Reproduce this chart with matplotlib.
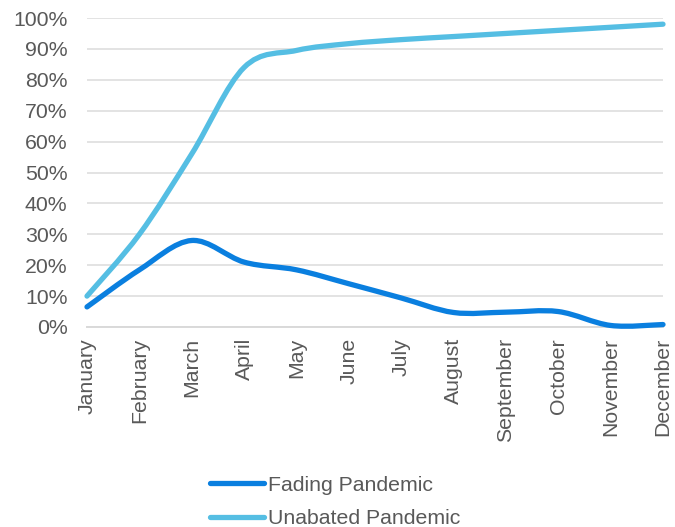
import numpy as np
import matplotlib
matplotlib.use("Agg")
import matplotlib.pyplot as plt
from matplotlib.path import Path
from matplotlib.patches import PathPatch
from matplotlib.lines import Line2D
from matplotlib.ticker import PercentFormatter

# data
months = ["January", "February", "March", "April", "May", "June", "July",
          "August", "September", "October", "November", "December"]
fading = [0.065, 0.185, 0.28, 0.21, 0.185, 0.14, 0.094, 0.047, 0.048, 0.05, 0.005, 0.008]
unabated = [0.10, 0.30, 0.56, 0.84, 0.895, 0.917, 0.93, 0.94, 0.95, 0.96, 0.97, 0.98]

series_names = ["Fading Pandemic", "Unabated Pandemic"]
colours = ["#0A7FDF", "#55BEE3"]

plt.rcParams['font.family'] = ['Liberation Sans', 'DejaVu Sans']


def smooth_path(xs, ys):
    # excel-like smoothed line: cubic bezier segments through the points
    pts = np.column_stack([xs, ys]).astype(float)
    verts = [pts[0]]
    codes = [Path.MOVETO]
    n = len(pts)
    for i in range(n - 1):
        p0 = pts[i - 1] if i > 0 else pts[i]
        p1 = pts[i]
        p2 = pts[i + 1]
        p3 = pts[i + 2] if i + 2 < n else pts[i + 1]
        c1 = p1 + (p2 - p0) / 6
        c2 = p2 - (p3 - p1) / 6
        verts += [c1, c2, p2]
        codes += [Path.CURVE4] * 3
    return Path(verts, codes)


fig = plt.figure(figsize=(6.75, 5.27), dpi=100)
ax = fig.add_axes([87 / 675, 200 / 527, 576 / 675, 309 / 527])

x = np.arange(len(months))
for vals, c in zip([fading, unabated], colours):
    patch = PathPatch(smooth_path(x, vals), facecolor='none', edgecolor=c,
                      lw=3.8, capstyle='round', joinstyle='round', clip_on=False, zorder=3)
    ax.add_patch(patch)

ax.set_xlim(0, len(months) - 1)
ax.set_ylim(0, 1)
ax.set_yticks(np.arange(0, 1.01, 0.1))
ax.yaxis.set_major_formatter(PercentFormatter(1.0, decimals=0))
ax.set_xticks(x)
ax.set_xticklabels(months, rotation=90)
ax.tick_params(axis='both', labelsize=15.3, labelcolor='#595959', length=0)
ax.tick_params(axis='y', pad=14)
ax.tick_params(axis='x', pad=8)
ax.grid(axis='y', color='#E3E3E3', lw=1.4)
ax.set_axisbelow(True)
for s in ['top', 'right', 'left']:
    ax.spines[s].set_visible(False)
ax.spines['bottom'].set_color('#D9D9D9')
ax.spines['bottom'].set_linewidth(1.4)

handles = [Line2D([], [], color=c, lw=3.8, solid_capstyle='round') for c in colours]
fig.legend(handles, series_names, loc='lower left', bbox_to_anchor=(208 / 675, -0.006),
           frameon=False, fontsize=15.3, labelcolor='#595959', handlelength=2.55,
           handletextpad=0.15, labelspacing=0.68, borderpad=0.1, borderaxespad=0)

fig.savefig("out.png", dpi=100)
